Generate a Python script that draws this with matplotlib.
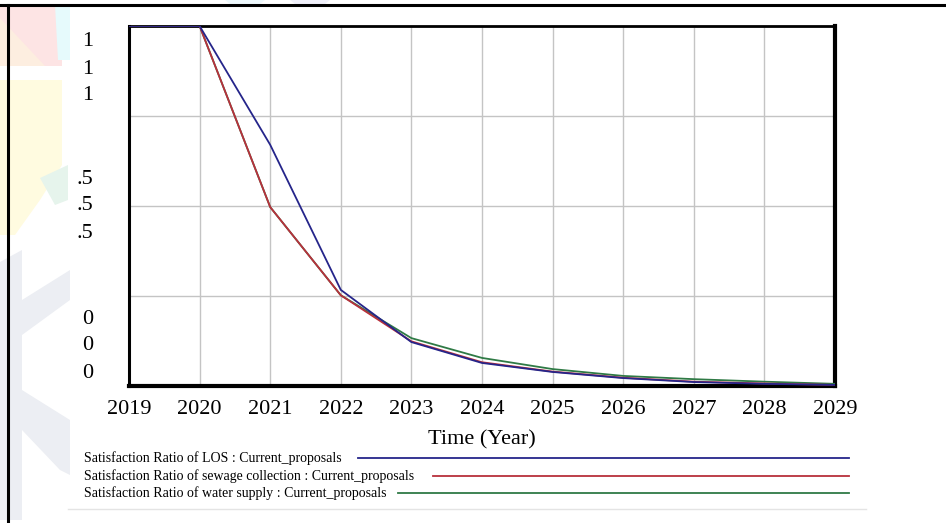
import matplotlib.pyplot as plt
from matplotlib.patches import Polygon
from matplotlib.lines import Line2D

# simulation output, Current_proposals run
years = [2019, 2020, 2021, 2022, 2023, 2024, 2025, 2026, 2027, 2028, 2029]
los = [1.0, 1.0, 0.670, 0.267, 0.122, 0.064, 0.039, 0.022, 0.011, 0.006, 0.003]
sewage = [1.0, 1.0, 0.497, 0.252, 0.124, 0.066, 0.040, 0.023, 0.012, 0.007, 0.003]
water = [1.0, 1.0, 0.497, 0.252, 0.133, 0.078, 0.047, 0.028, 0.019, 0.012, 0.006]

series_names = [
    'Satisfaction Ratio of LOS : Current_proposals',
    'Satisfaction Ratio of sewage collection : Current_proposals',
    'Satisfaction Ratio of water supply : Current_proposals',
]
y_ticks = [0, 0.5, 1]
y_tick_text = ['0', '.5', '1']

blue = '#25258a'
red = '#b8303c'
green = '#2f7a45'

W, H = 946, 523
fig = plt.figure(figsize=(W / 100, H / 100), dpi=100)
plt.rcParams['font.family'] = ['Liberation Serif', 'DejaVu Serif']


def px(x, y):
    # pixel position (from top-left) -> figure fraction
    return x / W, 1 - y / H


# faint logo shapes behind the chart
bg = fig.add_axes([0, 0, 1, 1], zorder=-10)
bg.set_xlim(0, W)
bg.set_ylim(H, 0)
bg.axis('off')
shapes = [
    ('#fde4e4', [(0, 5), (62, 5), (62, 66), (0, 66)]),
    ('#fdeee0', [(0, 18), (45, 66), (0, 66)]),
    ('#fffbe0', [(0, 80), (62, 80), (62, 165), (40, 200), (15, 235), (0, 235)]),
    ('#e6f4ec', [(40, 178), (68, 165), (68, 200), (55, 205)]),
    ('#e6fafc', [(55, 5), (70, 5), (70, 60), (58, 60)]),
    ('#eceef3', [(0, 262), (22, 250), (22, 520), (0, 520)]),
    ('#eceef3', [(22, 300), (70, 270), (70, 300), (22, 335)]),
    ('#eceef3', [(22, 390), (70, 420), (70, 475), (60, 470), (22, 430)]),
    ('#eef8fc', [(225, 0), (265, 0), (260, 4), (230, 4)]),
    ('#f0f0fa', [(290, 0), (330, 0), (325, 4), (295, 4)]),
]
for color, pts in shapes:
    bg.add_patch(Polygon(pts, closed=True, facecolor=color, edgecolor='none'))

# outer border of the figure panel
bg.add_line(Line2D([0, W], [5, 5], color='black', lw=2.2))
bg.add_line(Line2D([8, 8], [5, H], color='black', lw=2.2))
bg.add_line(Line2D([68, 866], [509, 509], color='#e4e4e4', lw=1))

x0, y0 = px(129, 386)
x1, y1 = px(835, 26)
ax = fig.add_axes([x0, y0, x1 - x0, y1 - y0])
ax.set_facecolor('none')

ax.plot(years, water, color=green, lw=1.3, zorder=3)
ax.plot(years, sewage, color=red, lw=1.3, zorder=4)
ax.plot(years, los, color=blue, lw=1.3, zorder=5)

ax.set_xlim(2019, 2029)
ax.set_ylim(0, 1)
ax.set_xticks(years)
ax.set_xticklabels([str(y) for y in years], fontsize=16)
ax.set_yticks([0, 0.25, 0.5, 0.75, 1])
ax.set_yticklabels([])
ax.tick_params(length=0, pad=10)
ax.grid(True, color='#c4c4c4', lw=1)
ax.set_axisbelow(True)
for side, lw in [('left', 2.2), ('bottom', 3), ('right', 3), ('top', 2)]:
    ax.spines[side].set_linewidth(lw)
    ax.spines[side].set_color('black')

# one value label per series scale, stacked at each tick
offsets = {0: [13, 40, 67], 0.5: [27, 0, -27], 1: [-16, -43, -70]}
for v, t in zip(y_ticks, y_tick_text):
    for off in offsets[v]:
        ax.annotate(t, xy=(0, v), xycoords=('axes fraction', 'data'),
                    xytext=(-36, off), textcoords='offset pixels',
                    ha='right', va='center', fontsize=16)

ax.set_xlabel('Time (Year)', fontsize=16, labelpad=8)

# legend rows: text followed by a long sample line
rows_y = [458, 476, 493]
line_start = [358, 433, 398]
for name, color, ry, ls in zip(series_names, [blue, red, green], rows_y, line_start):
    tx, ty = px(84, ry)
    fig.text(tx, ty, name, fontsize=10, ha='left', va='center')
    bg.add_line(Line2D([ls, 849], [ry, ry], color=color, lw=1.3))

fig.savefig('out.png', dpi=100, facecolor='white')
